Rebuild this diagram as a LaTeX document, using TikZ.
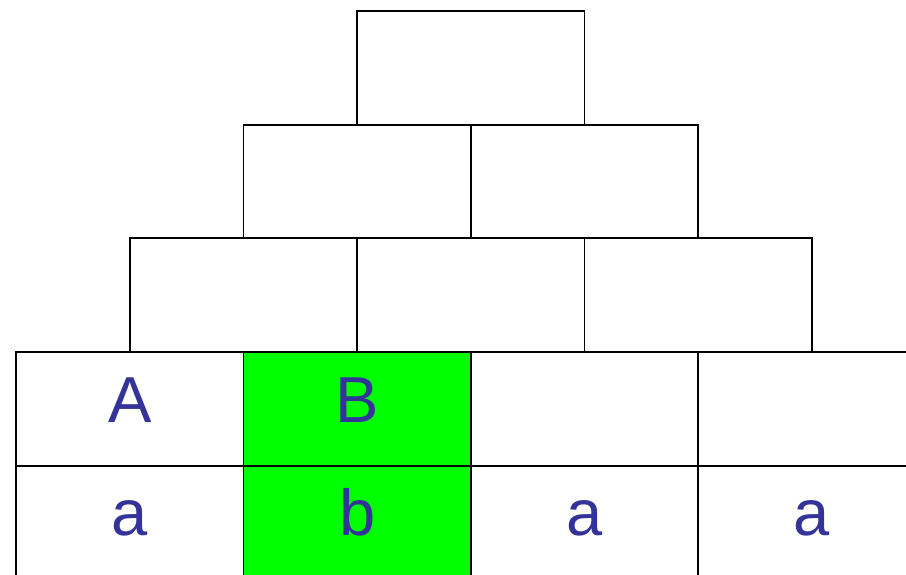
\documentclass[tikz,border=0pt]{standalone}
\usepackage{fontspec}
\setmainfont{Liberation Sans}
\definecolor{txtblue}{RGB}{51,51,153}
\definecolor{cellgreen}{RGB}{0,255,0}
\begin{document}
\begin{tikzpicture}[x=1pt,y=-1pt,
  cell/.style={draw=black,line width=1.8pt,rectangle,minimum width=227.3pt,minimum height=113.7pt,inner sep=0pt,anchor=north west},
  greencell/.style={cell,fill=cellgreen},
  lab/.style={anchor=base,inner sep=0pt,text=txtblue,font=\fontsize{65}{65}\selectfont}]
\useasboundingbox (0,0) rectangle (906,574);
\clip (0,0) rectangle (906,574);
% row 1
\node[cell] (t1) at (356.3,10) {};
% row 2
\node[cell] (s1) at (242.6,123.7) {};
\node[cell] (s2) at (469.9,123.7) {};
% row 3
\node[cell] (r1) at (128.9,237.4) {};
\node[cell] (r2) at (356.3,237.4) {};
\node[cell] (r3) at (583.6,237.4) {};
% row 4
\node[cell] (q1) at (15.3,351.1) {};
\node[greencell] (q2) at (242.6,351.1) {};
\node[cell] (q3) at (469.9,351.1) {};
\node[cell] (q4) at (697.2,351.1) {};
% row 5
\node[cell] (p1) at (15.3,464.8) {};
\node[greencell] (p2) at (242.6,464.8) {};
\node[cell] (p3) at (469.9,464.8) {};
\node[cell] (p4) at (697.2,464.8) {};
% labels
\node[lab] (lA) at ([yshift=-71pt]q1.north) {A};
\node[lab] (lB) at ([yshift=-71pt]q2.north) {B};
\node[lab] (la1) at ([yshift=-71pt]p1.north) {a};
\node[lab] (lb) at ([yshift=-71pt]p2.north) {b};
\node[lab] (la2) at ([yshift=-71pt]p3.north) {a};
\node[lab] (la3) at ([yshift=-71pt]p4.north) {a};
\end{tikzpicture}
\end{document}
